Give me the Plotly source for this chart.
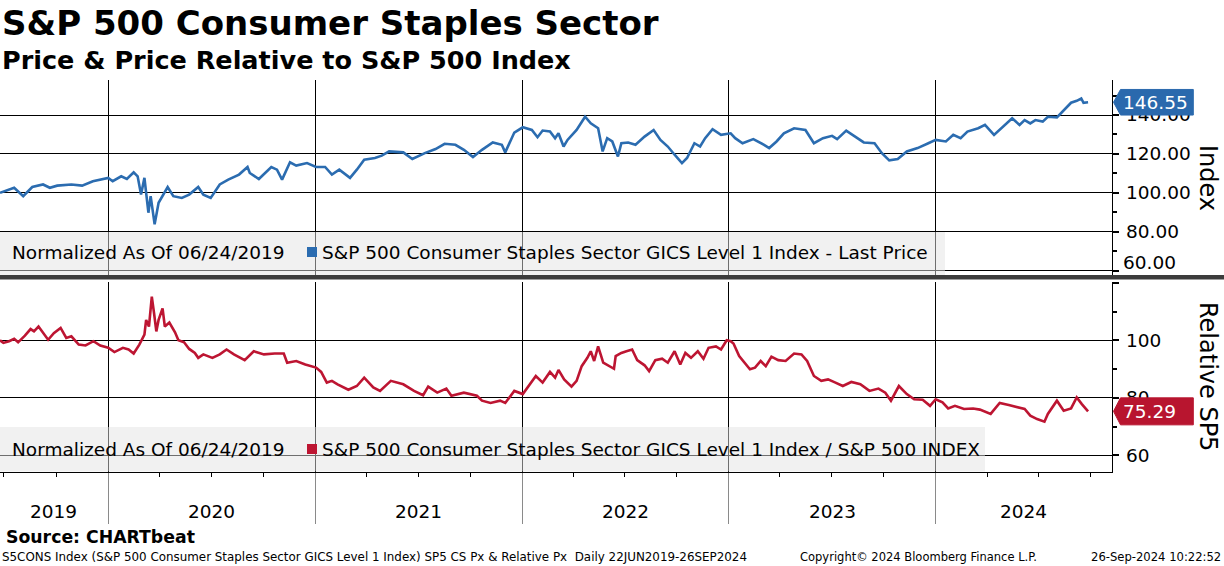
import plotly.graph_objects as go

# ---------------- data ----------------
TOP_DATES = [
    "2019-06-24", "2019-07-19", "2019-08-04", "2019-08-20", "2019-09-08", "2019-09-20",
    "2019-10-03", "2019-10-28", "2019-11-16", "2019-12-05", "2020-01-01", "2020-01-09",
    "2020-01-24", "2020-02-03", "2020-02-15", "2020-02-22", "2020-02-28", "2020-03-05",
    "2020-03-12", "2020-03-16", "2020-03-23", "2020-03-30", "2020-04-15", "2020-04-25",
    "2020-05-10", "2020-05-23", "2020-06-08", "2020-06-17", "2020-06-30", "2020-07-16",
    "2020-07-31", "2020-08-19", "2020-09-03", "2020-09-07", "2020-09-23", "2020-10-15",
    "2020-10-25", "2020-11-03", "2020-11-17", "2020-11-28", "2020-12-17", "2021-01-02",
    "2021-01-18", "2021-01-30", "2021-02-12", "2021-03-03", "2021-03-15", "2021-03-28",
    "2021-04-16", "2021-04-28", "2021-05-11", "2021-06-05", "2021-06-21", "2021-07-13",
    "2021-08-01", "2021-08-17", "2021-09-05", "2021-09-20", "2021-10-06", "2021-10-22",
    "2021-11-10", "2021-11-26", "2021-12-02", "2021-12-18", "2022-01-02", "2022-01-18",
    "2022-01-28", "2022-02-06", "2022-02-19", "2022-02-28", "2022-03-06", "2022-03-15",
    "2022-03-22", "2022-04-07", "2022-04-22", "2022-05-02", "2022-05-15", "2022-05-23",
    "2022-05-31", "2022-06-09", "2022-06-19", "2022-06-25", "2022-07-07", "2022-07-20",
    "2022-08-05", "2022-08-21", "2022-09-02", "2022-09-15", "2022-09-27", "2022-10-10",
    "2022-10-19", "2022-11-01", "2022-11-11", "2022-11-20", "2022-12-03", "2022-12-18",
    "2023-01-04", "2023-01-12", "2023-01-25", "2023-02-13", "2023-03-04", "2023-03-13",
    "2023-03-26", "2023-04-08", "2023-04-26", "2023-05-16", "2023-05-31", "2023-06-16",
    "2023-07-02", "2023-07-11", "2023-07-27", "2023-08-12", "2023-08-27", "2023-09-15",
    "2023-09-28", "2023-10-11", "2023-10-26", "2023-11-11", "2023-11-30", "2023-12-19",
    "2024-01-01", "2024-01-19", "2024-02-01", "2024-02-14", "2024-02-26", "2024-03-16",
    "2024-03-28", "2024-04-13", "2024-04-26", "2024-05-15", "2024-05-28", "2024-06-06",
    "2024-06-16", "2024-06-25", "2024-07-08", "2024-07-17", "2024-08-02", "2024-08-14",
    "2024-08-27", "2024-09-06", "2024-09-14", "2024-09-18", "2024-09-26",
]
TOP_VALUES = [
    100.0, 102.6, 98.3, 103.0, 104.3, 102.6,
    103.7, 104.3, 103.7, 106.0, 107.7, 106.0,
    108.5, 107.1, 110.6, 108.5, 99.1, 107.7,
    89.8, 98.3, 83.8, 94.9, 103.0, 98.3,
    97.4, 99.1, 103.0, 99.1, 97.4, 104.3,
    106.8, 109.4, 113.3, 110.2, 107.1, 113.3,
    111.9, 106.8, 115.7, 114.0, 115.3, 113.3,
    113.3, 109.4, 111.9, 107.7, 111.9, 117.0,
    117.9, 119.1, 121.3, 120.8, 117.4, 120.4,
    122.5, 125.2, 124.7, 122.1, 118.4, 122.1,
    125.9, 124.7, 120.8, 131.0, 133.7, 132.3,
    128.6, 132.0, 131.6, 128.1, 130.6, 123.8,
    127.2, 132.3, 139.1, 135.7, 133.2, 121.3,
    128.1, 126.4, 118.7, 125.5, 125.9, 124.7,
    128.9, 132.3, 127.2, 123.8, 119.6, 115.3,
    117.9, 125.5, 123.8, 128.1, 132.7, 129.8,
    130.6, 128.1, 125.5, 127.6, 124.7, 123.0,
    126.4, 130.6, 133.2, 132.3, 125.5, 128.1,
    129.3, 127.6, 132.0, 128.9, 125.9, 125.5,
    120.4, 116.7, 117.4, 121.3, 123.0, 125.5,
    127.2, 126.4, 129.8, 128.1, 131.5, 133.2,
    134.9, 129.8, 133.2, 138.3, 134.9, 137.4,
    135.7, 137.4, 136.6, 139.1, 138.8, 142.6,
    146.3, 147.3, 148.5, 146.3, 146.55,
]

REL_DATES = [
    "2019-06-24", "2019-06-30", "2019-07-10", "2019-07-19", "2019-07-26", "2019-08-07",
    "2019-08-17", "2019-08-23", "2019-08-31", "2019-09-08", "2019-09-17", "2019-09-27",
    "2019-10-09", "2019-10-19", "2019-10-28", "2019-11-10", "2019-11-22", "2019-12-06",
    "2019-12-18", "2020-01-01", "2020-01-12", "2020-01-27", "2020-02-06", "2020-02-15",
    "2020-02-25", "2020-03-05", "2020-03-08", "2020-03-13", "2020-03-18", "2020-03-22",
    "2020-03-26", "2020-03-30", "2020-04-06", "2020-04-10", "2020-04-18", "2020-04-28",
    "2020-05-04", "2020-05-14", "2020-05-23", "2020-06-02", "2020-06-08", "2020-06-17",
    "2020-07-03", "2020-07-16", "2020-07-28", "2020-08-10", "2020-08-29", "2020-09-14",
    "2020-10-02", "2020-10-21", "2020-11-06", "2020-11-12", "2020-11-28", "2020-12-14",
    "2021-01-02", "2021-01-11", "2021-01-21", "2021-01-30", "2021-02-09", "2021-02-28",
    "2021-03-15", "2021-03-28", "2021-04-13", "2021-04-25", "2021-05-14", "2021-06-05",
    "2021-06-24", "2021-07-10", "2021-07-19", "2021-08-04", "2021-08-20", "2021-08-29",
    "2021-09-20", "2021-10-13", "2021-10-22", "2021-11-06", "2021-11-23", "2021-12-02",
    "2021-12-18", "2022-01-02", "2022-01-12", "2022-01-25", "2022-02-06", "2022-02-19",
    "2022-02-28", "2022-03-06", "2022-03-16", "2022-03-29", "2022-04-07", "2022-04-16",
    "2022-04-26", "2022-05-02", "2022-05-08", "2022-05-15", "2022-05-24", "2022-06-03",
    "2022-06-12", "2022-06-15", "2022-06-25", "2022-07-04", "2022-07-14", "2022-07-23",
    "2022-08-05", "2022-08-13", "2022-08-24", "2022-09-05", "2022-09-15", "2022-09-27",
    "2022-10-07", "2022-10-16", "2022-10-26", "2022-11-07", "2022-11-17", "2022-11-26",
    "2022-12-09", "2022-12-18", "2022-12-28", "2023-01-04", "2023-01-09", "2023-01-19",
    "2023-01-28", "2023-02-07", "2023-02-16", "2023-02-26", "2023-03-07", "2023-03-17",
    "2023-03-29", "2023-04-11", "2023-04-26", "2023-05-09", "2023-05-19", "2023-05-31",
    "2023-06-13", "2023-06-25", "2023-07-08", "2023-07-21", "2023-08-05", "2023-08-21",
    "2023-09-06", "2023-09-22", "2023-10-04", "2023-10-14", "2023-10-28", "2023-11-11",
    "2023-11-24", "2023-12-09", "2023-12-22", "2024-01-01", "2024-01-13", "2024-01-23",
    "2024-02-04", "2024-02-20", "2024-03-07", "2024-03-19", "2024-04-07", "2024-04-23",
    "2024-05-09", "2024-05-25", "2024-06-06", "2024-06-16", "2024-06-28", "2024-07-11",
    "2024-07-17", "2024-08-02", "2024-08-14", "2024-08-27", "2024-09-06", "2024-09-15",
    "2024-09-26",
]
REL_VALUES = [
    100.0, 99.1, 99.7, 100.5, 99.3, 101.6,
    103.9, 103.1, 104.8, 102.8, 100.2, 102.5,
    104.3, 100.8, 101.4, 98.5, 98.2, 99.7,
    98.2, 97.4, 95.9, 97.4, 96.8, 95.4,
    98.5, 102.0, 107.1, 104.8, 115.2, 109.4,
    103.1, 107.1, 111.1, 104.8, 106.2, 102.8,
    100.0, 99.3, 97.0, 95.6, 93.9, 95.1,
    93.9, 95.1, 96.8, 95.1, 93.1, 96.2,
    95.1, 95.4, 95.4, 92.2, 92.8, 91.6,
    90.5, 89.0, 85.3, 85.9, 84.7, 82.8,
    84.1, 87.0, 83.6, 82.4, 85.9, 84.7,
    82.4, 80.9, 83.9, 81.8, 83.2, 80.7,
    81.8, 80.7, 79.0, 78.2, 79.0, 78.2,
    82.4, 81.3, 84.1, 87.6, 85.3, 89.0,
    87.0, 89.7, 86.4, 83.9, 85.9, 91.0,
    93.9, 96.2, 92.8, 97.9, 92.2, 91.0,
    90.1, 94.5, 95.6, 96.2, 96.8, 93.1,
    91.3, 89.3, 93.1, 93.6, 92.2, 96.2,
    91.6, 95.6, 93.9, 96.2, 93.6, 97.4,
    97.9, 96.8, 100.0, 99.7, 98.9, 94.5,
    92.4, 89.9, 90.5, 92.8, 91.0, 94.3,
    93.1, 92.8, 95.4, 95.1, 92.8, 87.6,
    85.9, 86.4, 85.3, 84.1, 85.5, 84.7,
    82.4, 83.2, 81.8, 79.0, 84.1, 81.3,
    79.5, 79.3, 77.2, 79.5, 78.4, 76.3,
    77.2, 76.1, 76.3, 75.9, 74.4, 78.2,
    77.5, 76.7, 76.1, 73.8, 72.6, 71.7,
    74.4, 79.0, 75.5, 76.3, 80.1, 77.8,
    75.29,
]

YEAR_STARTS = ["2020-01-01", "2021-01-01", "2022-01-01", "2023-01-01", "2024-01-01"]
YEAR_LABELS = ["2019", "2020", "2021", "2022", "2023", "2024"]
YEAR_LABEL_DATES = ["2019-09-27", "2020-07-02", "2021-07-02", "2022-07-02", "2023-07-02", "2024-06-04"]
X_RANGE = ["2019-06-24", "2024-11-07 19:00"]

TOP_TICKS = [60, 80, 100, 120, 140]
TOP_TICKTEXT = ["", "80.00", "100.00", "120.00", "140.00"]
TOP_EDGE_LABEL = "60.00"          # drawn nudged up so that it stays inside the panel
TOP_RANGE = [57.79, 157.99]
REL_TICKS = [60, 80, 100, 120]
REL_TICKTEXT = ["60", "80", "100", ""]
REL_RANGE = [54.3, 120.28]

TITLE = "S&P 500 Consumer Staples Sector"
SUBTITLE = "Price & Price Relative to S&P 500 Index"
LEGEND_PREFIX = "Normalized As Of 06/24/2019"
TOP_NAME = "S&P 500 Consumer Staples Sector GICS Level 1 Index - Last Price"
REL_NAME = "S&P 500 Consumer Staples Sector GICS Level 1 Index / S&P 500 INDEX"
TOP_AXIS_TITLE = "Index"
REL_AXIS_TITLE = "Relative SP5"
SOURCE = "Source: CHARTbeat"
FOOT_LEFT = "S5CONS Index (S&P 500 Consumer Staples Sector GICS Level 1 Index) SP5 CS Px & Relative Px  Daily 22JUN2019-26SEP2024"
FOOT_MID = "Copyright\u00a9 2024 Bloomberg Finance L.P."
FOOT_RIGHT = "26-Sep-2024 10:22:52"

# ---------------- styling / layout ----------------
W, H = 1224, 566
FONT = "DejaVu Sans"
BLUE = "#2b6cb0"
RED = "#bd1532"
BLUE_TAG = "#2a69ad"
RED_TAG = "#b8152f"


def fx(p):
    return p / W


def fy(p):
    return 1 - p / H


X_DOMAIN = [0, fx(1112.3)]
TOP_DOM_PX = (80.0, 275.0)
REL_DOM_PX = (282.0, 471.7)

fig = go.Figure()
fig.add_trace(go.Scatter(x=TOP_DATES, y=TOP_VALUES, mode="lines", xaxis="x", yaxis="y",
                         line=dict(color=BLUE, width=2.6), hoverinfo="skip", showlegend=False))
fig.add_trace(go.Scatter(x=REL_DATES, y=REL_VALUES, mode="lines", xaxis="x2", yaxis="y2",
                         line=dict(color=RED, width=2.6), hoverinfo="skip", showlegend=False))

tick_font = dict(family=FONT, size=18.5, color="black")

yaxis_common = dict(
    side="right", showline=True, linecolor="black", linewidth=1,
    showgrid=True, gridcolor="black", gridwidth=1, zeroline=False,
    ticks="outside", ticklen=6, tickwidth=2, tickcolor="black",
    tickfont=tick_font, fixedrange=True, ticklabelstandoff=3,
    minor=dict(dtick=10, ticks="outside", ticklen=4, tickcolor="black", showgrid=False),
)

fig.update_layout(
    width=W, height=H, margin=dict(l=0, r=0, t=0, b=0),
    paper_bgcolor="white", plot_bgcolor="white",
    font=dict(family=FONT, color="black"),
    showlegend=False,
    xaxis=dict(domain=X_DOMAIN, anchor="y", range=X_RANGE, type="date",
               tickvals=YEAR_STARTS, showticklabels=False, ticks="",
               showgrid=True, gridcolor="black", gridwidth=1, zeroline=False, showline=False),
    yaxis=dict(domain=[fy(TOP_DOM_PX[1]), fy(TOP_DOM_PX[0])], anchor="x", range=TOP_RANGE,
               tickvals=TOP_TICKS, ticktext=TOP_TICKTEXT, **yaxis_common),
    xaxis2=dict(domain=X_DOMAIN, anchor="y2", range=X_RANGE, type="date", matches="x",
                tickvals=YEAR_STARTS, showticklabels=False,
                ticks="outside", ticklen=51, tickwidth=1, tickcolor="#8a8a8a",
                showgrid=True, gridcolor="black", gridwidth=1, zeroline=False,
                showline=True, linecolor="black", linewidth=1,
                minor=dict(dtick="M3", tick0="2019-07-01", ticks="outside", ticklen=4,
                           tickcolor="black", showgrid=False)),
    yaxis2=dict(domain=[fy(REL_DOM_PX[1]), fy(REL_DOM_PX[0])], anchor="x2", range=REL_RANGE,
                tickvals=REL_TICKS, ticktext=REL_TICKTEXT, **yaxis_common),
)

shapes = []
annotations = []

# legend boxes (semi-transparent, over the gridlines)
for (x1, y0, y1) in [(945, 232, 275), (985, 427, 471.5)]:
    shapes.append(dict(type="rect", xref="paper", yref="paper", x0=0, x1=fx(x1),
                       y0=fy(y1), y1=fy(y0), fillcolor="rgba(226,226,226,0.49)",
                       line=dict(width=0), layer="above"))

# separator between panels
shapes.append(dict(type="rect", xref="paper", yref="paper", x0=0, x1=1,
                   y0=fy(279.5), y1=fy(275), fillcolor="#3c3c3c", line=dict(width=0), layer="above"))

# legend contents
for (yc, color, name) in [(252, BLUE, TOP_NAME), (449, RED, REL_NAME)]:
    annotations.append(dict(text=LEGEND_PREFIX, xref="paper", yref="paper", x=fx(10), y=fy(yc),
                            xanchor="left", yanchor="middle", showarrow=False,
                            font=dict(family=FONT, size=18.5, color="black")))
    shapes.append(dict(type="rect", xref="paper", yref="paper", x0=fx(307), x1=fx(317),
                       y0=fy(yc + 5), y1=fy(yc - 5), fillcolor=color, line=dict(width=0), layer="above"))
    annotations.append(dict(text=name, xref="paper", yref="paper", x=fx(320), y=fy(yc),
                            xanchor="left", yanchor="middle", showarrow=False,
                            font=dict(family=FONT, size=18.5, color="black")))

# lowest label of the upper panel, kept inside the panel
annotations.append(dict(text=TOP_EDGE_LABEL, xref="paper", yref="paper", x=fx(1121), y=fy(262.5),
                        xanchor="left", yanchor="middle", showarrow=False, font=tick_font))

# last-value tags
top_upp = (TOP_RANGE[1] - TOP_RANGE[0]) / (TOP_DOM_PX[1] - TOP_DOM_PX[0])
rel_upp = (REL_RANGE[1] - REL_RANGE[0]) / (REL_DOM_PX[1] - REL_DOM_PX[0])
for (v, yref, upp, col, half) in [(TOP_VALUES[-1], "y", top_upp, BLUE_TAG, 12.8),
                                  (REL_VALUES[-1], "y2", rel_upp, RED_TAG, 13.5)]:
    h = half * upp
    path = (f"M {fx(1113.5)},{v} L {fx(1120.5)},{v + h} L {fx(1193.3)},{v + h} "
            f"L {fx(1193.3)},{v - h} L {fx(1120.5)},{v - h} Z")
    shapes.append(dict(type="path", xref="paper", yref=yref, path=path,
                       fillcolor=col, line=dict(color=col, width=1), layer="above"))
    txt = f"{v:.2f}"
    annotations.append(dict(text=txt, xref="paper", yref=yref, x=fx(1121), y=v,
                            xanchor="left", yanchor="middle", showarrow=False,
                            font=dict(family=FONT, size=18.5, color="white")))

# axis titles (rotated)
annotations.append(dict(text=TOP_AXIS_TITLE, xref="paper", yref="paper", x=fx(1208), y=fy(178),
                        textangle=90, showarrow=False, xanchor="center", yanchor="middle",
                        font=dict(family=FONT, size=24, color="black")))
annotations.append(dict(text=REL_AXIS_TITLE, xref="paper", yref="paper", x=fx(1208), y=fy(376),
                        textangle=90, showarrow=False, xanchor="center", yanchor="middle",
                        font=dict(family=FONT, size=24, color="black")))

# year labels
for lab, d in zip(YEAR_LABELS, YEAR_LABEL_DATES):
    annotations.append(dict(text=lab, xref="x2", yref="paper", x=d, y=fy(511),
                            xanchor="center", yanchor="middle", showarrow=False,
                            font=dict(family=FONT, size=18.5, color="black")))

# titles
annotations.append(dict(text=f"<b>{TITLE}</b>", xref="paper", yref="paper", x=0, y=fy(23),
                        xanchor="left", yanchor="middle", showarrow=False,
                        font=dict(family=FONT, size=34, color="black")))
annotations.append(dict(text=f"<b>{SUBTITLE}</b>", xref="paper", yref="paper", x=0, y=fy(60),
                        xanchor="left", yanchor="middle", showarrow=False,
                        font=dict(family=FONT, size=25.5, color="black")))

# footer
annotations.append(dict(text=f"<b>{SOURCE}</b>", xref="paper", yref="paper", x=fx(4), y=fy(537),
                        xanchor="left", yanchor="middle", showarrow=False,
                        font=dict(family=FONT, size=17.3, color="black")))
annotations.append(dict(text=FOOT_LEFT, xref="paper", yref="paper", x=0, y=fy(557),
                        xanchor="left", yanchor="middle", showarrow=False,
                        font=dict(family=FONT, size=11.9, color="black")))
annotations.append(dict(text=FOOT_MID, xref="paper", yref="paper", x=fx(798), y=fy(557),
                        xanchor="left", yanchor="middle", showarrow=False,
                        font=dict(family=FONT, size=11.5, color="black")))
annotations.append(dict(text=FOOT_RIGHT, xref="paper", yref="paper", x=fx(1223), y=fy(557),
                        xanchor="right", yanchor="middle", showarrow=False,
                        font=dict(family=FONT, size=11.6, color="black")))

fig.update_layout(shapes=shapes, annotations=annotations)

POST = (
    "document.body.style.margin='0px';"
    "document.body.style.overflow='hidden';"
    "var gd=document.getElementsByClassName('plotly-graph-div')[0];"
    "if(gd && window.innerHeight && Math.abs(window.innerHeight-%d)>1){"
    "Plotly.relayout(gd,{height:window.innerHeight});}" % H
)
fig.write_html("out.html", config={"displayModeBar": False}, post_script=POST)
